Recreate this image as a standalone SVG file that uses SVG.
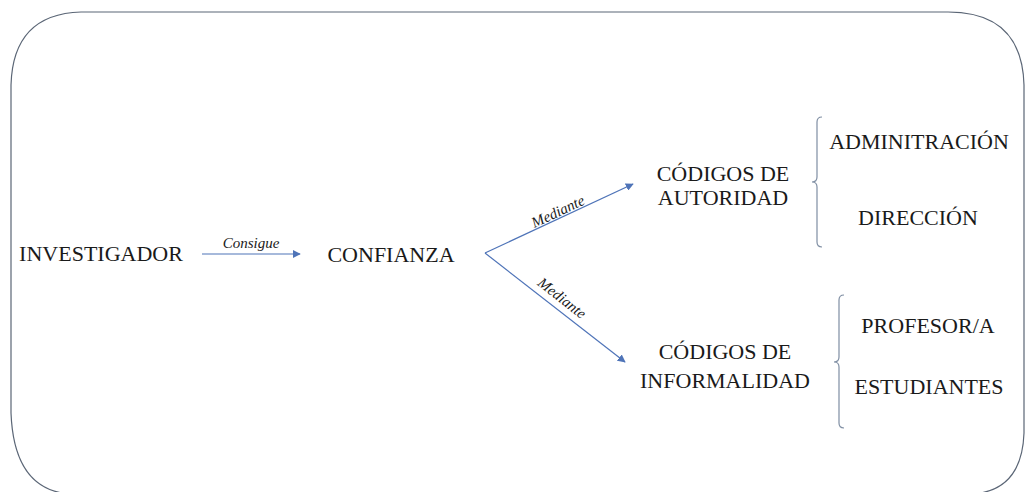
<svg xmlns="http://www.w3.org/2000/svg" width="1025" height="492" viewBox="0 0 1025 492">
<style>
.t{font-family:"Liberation Serif","Times New Roman",serif;font-size:22px;fill:#1a1a1a}
.lbl{font-family:"Liberation Serif","Times New Roman",serif;font-size:15px;font-style:italic;fill:#1a1a1a}
.arr{stroke:#4f74b8;stroke-width:1.2;fill:none;marker-end:url(#ah)}
.br{stroke:#7f8ea3;stroke-width:1.2;fill:none}
</style>
<defs>
<marker id="ah" viewBox="0 0 10 10" refX="9" refY="5" markerWidth="8" markerHeight="8" markerUnits="userSpaceOnUse" orient="auto">
<path d="M0,0 L10,5 L0,10 z" fill="#4f74b8"/>
</marker>
</defs>
<path id="frame" d="M81,12 L948,12 Q1022,12 1024,85 L1024,433 Q1022,490 973,494 L70,494 Q14,490 11,413 L11,85 Q13,14 81,12 Z" fill="#ffffff" stroke="#5b6676" stroke-width="1.2"/>
<g id="connectors">
<line class="arr" x1="202" y1="254" x2="300" y2="254"/>
<line class="arr" x1="485" y1="253" x2="633" y2="184"/>
<line class="arr" x1="485" y1="253" x2="625" y2="362"/>
<text class="lbl" x="251" y="248" text-anchor="middle">Consigue</text>
<text class="lbl" x="0" y="0" text-anchor="middle" transform="translate(560,216) rotate(-25)">Mediante</text>
<text class="lbl" x="0" y="0" text-anchor="middle" transform="translate(559,302) rotate(38)">Mediante</text>
</g>
<g id="investigador"><text class="t" x="101" y="261" text-anchor="middle">INVESTIGADOR</text></g>
<g id="confianza"><text class="t" x="391" y="262" text-anchor="middle">CONFIANZA</text></g>
<g id="codigos-autoridad">
<text class="t" x="723" y="181" text-anchor="middle">CÓDIGOS DE</text>
<text class="t" x="723" y="205" text-anchor="middle">AUTORIDAD</text>
</g>
<g id="codigos-informalidad">
<text class="t" x="725" y="359" text-anchor="middle">CÓDIGOS DE</text>
<text class="t" x="725" y="388" text-anchor="middle">INFORMALIDAD</text>
</g>
<g id="brace-autoridad">
<path class="br" d="M822,117 Q817,117 817,122 L817,177 Q817,182 812,182 Q817,182 817,187 L817,242 Q817,247 822,247"/>
<text class="t" x="919" y="149" text-anchor="middle">ADMINITRACIÓN</text>
<text class="t" x="918" y="225" text-anchor="middle">DIRECCIÓN</text>
</g>
<g id="brace-informalidad">
<path class="br" d="M844,295 Q839,295 839,300 L839,357 Q839,362 834,362 Q839,362 839,367 L839,423 Q839,428 844,428"/>
<text class="t" x="928" y="333" text-anchor="middle">PROFESOR/A</text>
<text class="t" x="929" y="394" text-anchor="middle">ESTUDIANTES</text>
</g>
</svg>
